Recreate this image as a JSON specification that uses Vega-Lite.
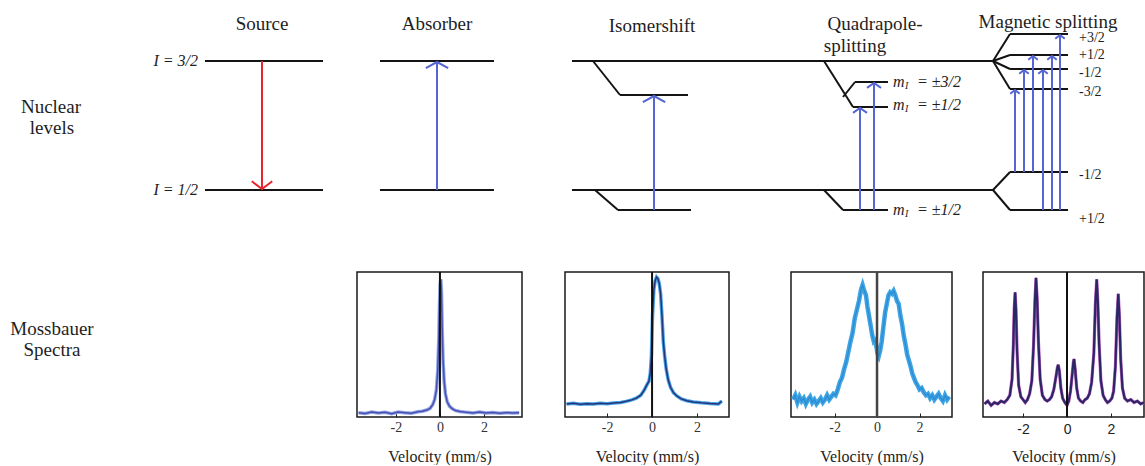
{
  "$schema": "https://vega.github.io/schema/vega-lite/v6.json",
  "padding": 0,
  "background": "white",
  "config": {
    "view": {"stroke": "#1a1a1a", "strokeWidth": 1.5},
    "concat": {"spacing": 0},
    "text": {"font": "Liberation Serif, Times New Roman, DejaVu Serif, serif", "color": "#1e1e1e"}
  },
  "datasets": {
    "segments": [
      {"x": 205, "y": 61, "x2": 323, "y2": 61},
      {"x": 205, "y": 190, "x2": 323, "y2": 190},
      {"x": 380, "y": 61, "x2": 494, "y2": 61},
      {"x": 380, "y": 190, "x2": 494, "y2": 190},
      {"x": 572, "y": 61, "x2": 993, "y2": 61},
      {"x": 572, "y": 190, "x2": 993, "y2": 190},
      {"x": 593, "y": 61, "x2": 620, "y2": 95},
      {"x": 620, "y": 95, "x2": 688, "y2": 95},
      {"x": 595, "y": 190, "x2": 618, "y2": 210},
      {"x": 618, "y": 210, "x2": 691, "y2": 210},
      {"x": 824, "y": 61, "x2": 853, "y2": 107},
      {"x": 853, "y": 107, "x2": 888, "y2": 107},
      {"x": 843, "y": 97, "x2": 855, "y2": 82},
      {"x": 855, "y": 82, "x2": 888, "y2": 82},
      {"x": 824, "y": 190, "x2": 843, "y2": 210},
      {"x": 843, "y": 210, "x2": 888, "y2": 210},
      {"x": 993, "y": 61, "x2": 1010, "y2": 34},
      {"x": 1010, "y": 34, "x2": 1068, "y2": 34},
      {"x": 993, "y": 61, "x2": 1010, "y2": 55},
      {"x": 1010, "y": 55, "x2": 1068, "y2": 55},
      {"x": 993, "y": 61, "x2": 1010, "y2": 69},
      {"x": 1010, "y": 69, "x2": 1068, "y2": 69},
      {"x": 993, "y": 61, "x2": 1010, "y2": 89},
      {"x": 1010, "y": 89, "x2": 1068, "y2": 89},
      {"x": 993, "y": 190, "x2": 1010, "y2": 172},
      {"x": 1010, "y": 172, "x2": 1068, "y2": 172},
      {"x": 993, "y": 190, "x2": 1010, "y2": 210},
      {"x": 1010, "y": 210, "x2": 1068, "y2": 210}
    ],
    "arrows": [
      {"kind": "source", "x": 262, "y": 61, "y2": 189},
      {"kind": "absorber", "x": 437, "y": 190, "y2": 62},
      {"kind": "iso", "x": 654, "y": 210, "y2": 96},
      {"kind": "quad", "x": 860, "y": 210, "y2": 108},
      {"kind": "quad", "x": 874, "y": 210, "y2": 83},
      {"kind": "mag", "x": 1015, "y": 172, "y2": 90},
      {"kind": "mag", "x": 1024, "y": 172, "y2": 70},
      {"kind": "mag", "x": 1033, "y": 172, "y2": 56},
      {"kind": "mag", "x": 1043, "y": 210, "y2": 70},
      {"kind": "mag", "x": 1052, "y": 210, "y2": 56},
      {"kind": "mag", "x": 1060, "y": 210, "y2": 35}
    ],
    "titles": [
      {"x": 262, "y": 24, "text": "Source"},
      {"x": 437, "y": 24, "text": "Absorber"},
      {"x": 652, "y": 26, "text": "Isomershift"},
      {"x": 875, "y": 24, "text": "Quadrapole-"},
      {"x": 855, "y": 46, "text": "splitting"},
      {"x": 1048, "y": 22, "text": "Magnetic splitting"},
      {"x": 51, "y": 107, "text": "Nuclear"},
      {"x": 52, "y": 128, "text": "levels"}
    ],
    "spins": [
      {"x": 198, "y": 61, "text": "I = 3/2"},
      {"x": 198, "y": 190, "text": "I = 1/2"}
    ],
    "mlabels": [
      {"part": "m", "x": 893, "y": 82, "text": "m"},
      {"part": "m", "x": 893, "y": 105, "text": "m"},
      {"part": "m", "x": 893, "y": 210, "text": "m"},
      {"part": "sub", "x": 905, "y": 86, "text": "I"},
      {"part": "sub", "x": 905, "y": 109, "text": "I"},
      {"part": "sub", "x": 905, "y": 214, "text": "I"},
      {"part": "eq", "x": 917, "y": 82, "text": "= ±3/2"},
      {"part": "eq", "x": 917, "y": 105, "text": "= ±1/2"},
      {"part": "eq", "x": 917, "y": 210, "text": "= ±1/2"}
    ],
    "maglabels": [
      {"x": 1079, "y": 38, "text": "+3/2"},
      {"x": 1079, "y": 55, "text": "+1/2"},
      {"x": 1079, "y": 73, "text": "-1/2"},
      {"x": 1079, "y": 92, "text": "-3/2"},
      {"x": 1079, "y": 175, "text": "-1/2"},
      {"x": 1079, "y": 219, "text": "+1/2"}
    ],
    "spectraLabel": [
      {"x": 52, "y": 329, "text": "Mossbauer"},
      {"x": 52, "y": 350, "text": "Spectra"}
    ],
    "p1": [
      {"v": -3.7, "a": 0.030}, {"v": -3.4, "a": 0.025}, {"v": -3.1, "a": 0.035}, {"v": -2.8, "a": 0.028},
      {"v": -2.5, "a": 0.032}, {"v": -2.2, "a": 0.022}, {"v": -1.9, "a": 0.034}, {"v": -1.6, "a": 0.030},
      {"v": -1.3, "a": 0.026}, {"v": -1.0, "a": 0.036}, {"v": -0.8, "a": 0.040}, {"v": -0.6, "a": 0.048},
      {"v": -0.45, "a": 0.060}, {"v": -0.33, "a": 0.085}, {"v": -0.24, "a": 0.12}, {"v": -0.16, "a": 0.19},
      {"v": -0.10, "a": 0.32}, {"v": -0.05, "a": 0.55}, {"v": -0.02, "a": 0.78}, {"v": 0.01, "a": 0.92},
      {"v": 0.04, "a": 0.95}, {"v": 0.07, "a": 0.86}, {"v": 0.10, "a": 0.62}, {"v": 0.14, "a": 0.40},
      {"v": 0.19, "a": 0.25}, {"v": 0.25, "a": 0.16}, {"v": 0.33, "a": 0.105}, {"v": 0.43, "a": 0.075},
      {"v": 0.55, "a": 0.058}, {"v": 0.7, "a": 0.045}, {"v": 0.9, "a": 0.038}, {"v": 1.2, "a": 0.032},
      {"v": 1.5, "a": 0.028}, {"v": 1.8, "a": 0.034}, {"v": 2.1, "a": 0.027}, {"v": 2.4, "a": 0.031},
      {"v": 2.7, "a": 0.026}, {"v": 3.0, "a": 0.030}, {"v": 3.3, "a": 0.028}, {"v": 3.6, "a": 0.030}
    ],
    "p2": [
      {"v": -3.8, "a": 0.090}, {"v": -3.5, "a": 0.095}, {"v": -3.2, "a": 0.088}, {"v": -2.9, "a": 0.092},
      {"v": -2.6, "a": 0.090}, {"v": -2.3, "a": 0.094}, {"v": -2.0, "a": 0.092}, {"v": -1.7, "a": 0.097},
      {"v": -1.4, "a": 0.100}, {"v": -1.15, "a": 0.108}, {"v": -0.9, "a": 0.118}, {"v": -0.7, "a": 0.130},
      {"v": -0.5, "a": 0.150}, {"v": -0.35, "a": 0.185}, {"v": -0.22, "a": 0.225}, {"v": -0.14, "a": 0.245},
      {"v": -0.08, "a": 0.30}, {"v": -0.03, "a": 0.42}, {"v": 0.02, "a": 0.70}, {"v": 0.08, "a": 0.88},
      {"v": 0.14, "a": 0.94}, {"v": 0.20, "a": 0.965}, {"v": 0.26, "a": 0.955}, {"v": 0.32, "a": 0.92},
      {"v": 0.38, "a": 0.85}, {"v": 0.44, "a": 0.70}, {"v": 0.50, "a": 0.52}, {"v": 0.56, "a": 0.42},
      {"v": 0.63, "a": 0.33}, {"v": 0.72, "a": 0.255}, {"v": 0.82, "a": 0.205}, {"v": 0.95, "a": 0.168},
      {"v": 1.1, "a": 0.145}, {"v": 1.3, "a": 0.125}, {"v": 1.55, "a": 0.112}, {"v": 1.84, "a": 0.104},
      {"v": 2.2, "a": 0.098}, {"v": 2.58, "a": 0.093}, {"v": 2.95, "a": 0.090}, {"v": 3.1, "a": 0.110}
    ],
    "p3": [
      {"v": -3.95, "a": 0.12}, {"v": -3.85, "a": 0.15}, {"v": -3.75, "a": 0.10}, {"v": -3.65, "a": 0.14},
      {"v": -3.55, "a": 0.11}, {"v": -3.45, "a": 0.13}, {"v": -3.35, "a": 0.09}, {"v": -3.25, "a": 0.12},
      {"v": -3.15, "a": 0.14}, {"v": -3.05, "a": 0.10}, {"v": -2.95, "a": 0.12}, {"v": -2.85, "a": 0.09},
      {"v": -2.75, "a": 0.11}, {"v": -2.65, "a": 0.13}, {"v": -2.55, "a": 0.10}, {"v": -2.45, "a": 0.12},
      {"v": -2.35, "a": 0.15}, {"v": -2.25, "a": 0.12}, {"v": -2.15, "a": 0.14}, {"v": -2.05, "a": 0.16},
      {"v": -1.95, "a": 0.15}, {"v": -1.85, "a": 0.19}, {"v": -1.75, "a": 0.24}, {"v": -1.65, "a": 0.27},
      {"v": -1.55, "a": 0.33}, {"v": -1.45, "a": 0.38}, {"v": -1.35, "a": 0.45}, {"v": -1.25, "a": 0.52},
      {"v": -1.15, "a": 0.58}, {"v": -1.05, "a": 0.68}, {"v": -0.95, "a": 0.74}, {"v": -0.85, "a": 0.80},
      {"v": -0.75, "a": 0.88}, {"v": -0.68, "a": 0.91}, {"v": -0.60, "a": 0.87}, {"v": -0.52, "a": 0.84},
      {"v": -0.45, "a": 0.76}, {"v": -0.38, "a": 0.70}, {"v": -0.30, "a": 0.63}, {"v": -0.22, "a": 0.56},
      {"v": -0.15, "a": 0.52}, {"v": -0.08, "a": 0.53}, {"v": 0.02, "a": 0.44}, {"v": 0.08, "a": 0.42},
      {"v": 0.15, "a": 0.46}, {"v": 0.22, "a": 0.52}, {"v": 0.30, "a": 0.62}, {"v": 0.38, "a": 0.72},
      {"v": 0.46, "a": 0.78}, {"v": 0.54, "a": 0.84}, {"v": 0.62, "a": 0.86}, {"v": 0.70, "a": 0.85},
      {"v": 0.78, "a": 0.87}, {"v": 0.86, "a": 0.84}, {"v": 0.94, "a": 0.80}, {"v": 1.02, "a": 0.78},
      {"v": 1.10, "a": 0.70}, {"v": 1.18, "a": 0.64}, {"v": 1.26, "a": 0.56}, {"v": 1.34, "a": 0.50},
      {"v": 1.42, "a": 0.43}, {"v": 1.50, "a": 0.39}, {"v": 1.58, "a": 0.35}, {"v": 1.66, "a": 0.30},
      {"v": 1.74, "a": 0.27}, {"v": 1.82, "a": 0.24}, {"v": 1.90, "a": 0.22}, {"v": 2.00, "a": 0.19},
      {"v": 2.10, "a": 0.20}, {"v": 2.20, "a": 0.17}, {"v": 2.30, "a": 0.15}, {"v": 2.40, "a": 0.16},
      {"v": 2.50, "a": 0.13}, {"v": 2.60, "a": 0.15}, {"v": 2.70, "a": 0.12}, {"v": 2.80, "a": 0.14},
      {"v": 2.90, "a": 0.16}, {"v": 3.00, "a": 0.13}, {"v": 3.10, "a": 0.11}, {"v": 3.20, "a": 0.15},
      {"v": 3.30, "a": 0.12}, {"v": 3.40, "a": 0.14}
    ],
    "p4": [
      {"v": -3.75, "a": 0.09}, {"v": -3.6, "a": 0.11}, {"v": -3.45, "a": 0.08}, {"v": -3.3, "a": 0.10},
      {"v": -3.15, "a": 0.09}, {"v": -3.0, "a": 0.11}, {"v": -2.85, "a": 0.10}, {"v": -2.72, "a": 0.12},
      {"v": -2.6, "a": 0.15}, {"v": -2.5, "a": 0.26}, {"v": -2.44, "a": 0.50}, {"v": -2.40, "a": 0.75},
      {"v": -2.36, "a": 0.86}, {"v": -2.32, "a": 0.74}, {"v": -2.27, "a": 0.45}, {"v": -2.2, "a": 0.22},
      {"v": -2.1, "a": 0.14}, {"v": -2.0, "a": 0.12}, {"v": -1.9, "a": 0.10}, {"v": -1.8, "a": 0.12},
      {"v": -1.7, "a": 0.16}, {"v": -1.6, "a": 0.25}, {"v": -1.52, "a": 0.50}, {"v": -1.46, "a": 0.80},
      {"v": -1.41, "a": 0.96}, {"v": -1.36, "a": 0.82}, {"v": -1.30, "a": 0.52}, {"v": -1.22, "a": 0.26},
      {"v": -1.12, "a": 0.15}, {"v": -1.0, "a": 0.12}, {"v": -0.9, "a": 0.11}, {"v": -0.8, "a": 0.12},
      {"v": -0.7, "a": 0.14}, {"v": -0.6, "a": 0.19}, {"v": -0.5, "a": 0.28}, {"v": -0.44, "a": 0.34},
      {"v": -0.40, "a": 0.36}, {"v": -0.35, "a": 0.32}, {"v": -0.28, "a": 0.20}, {"v": -0.2, "a": 0.13},
      {"v": -0.1, "a": 0.10}, {"v": 0.0, "a": 0.08}, {"v": 0.08, "a": 0.11}, {"v": 0.16, "a": 0.18},
      {"v": 0.24, "a": 0.30}, {"v": 0.29, "a": 0.38}, {"v": 0.32, "a": 0.40}, {"v": 0.37, "a": 0.33},
      {"v": 0.44, "a": 0.20}, {"v": 0.52, "a": 0.13}, {"v": 0.62, "a": 0.11}, {"v": 0.72, "a": 0.10},
      {"v": 0.82, "a": 0.12}, {"v": 0.92, "a": 0.13}, {"v": 1.02, "a": 0.16}, {"v": 1.12, "a": 0.24},
      {"v": 1.22, "a": 0.44}, {"v": 1.29, "a": 0.78}, {"v": 1.35, "a": 0.95}, {"v": 1.40, "a": 0.80},
      {"v": 1.46, "a": 0.50}, {"v": 1.54, "a": 0.25}, {"v": 1.64, "a": 0.15}, {"v": 1.74, "a": 0.12},
      {"v": 1.84, "a": 0.10}, {"v": 1.94, "a": 0.11}, {"v": 2.04, "a": 0.13}, {"v": 2.12, "a": 0.18},
      {"v": 2.2, "a": 0.35}, {"v": 2.27, "a": 0.68}, {"v": 2.33, "a": 0.85}, {"v": 2.38, "a": 0.70},
      {"v": 2.44, "a": 0.40}, {"v": 2.52, "a": 0.20}, {"v": 2.62, "a": 0.13}, {"v": 2.75, "a": 0.11},
      {"v": 2.9, "a": 0.12}, {"v": 3.05, "a": 0.10}, {"v": 3.2, "a": 0.11}, {"v": 3.35, "a": 0.09},
      {"v": 3.5, "a": 0.10}
    ],
    "zero": [{"v": 0, "a": 0, "a2": 1}]
  },
  "spacing": 0,
  "bounds": "flush",
  "vconcat": [
    {
      "width": 1145,
      "height": 272,
      "view": {"stroke": null},
      "encoding": {
        "x": {"field": "x", "type": "quantitative", "scale": {"domain": [0, 1145], "nice": false, "zero": false}, "axis": null},
        "y": {"field": "y", "type": "quantitative", "scale": {"domain": [0, 272], "reverse": true, "nice": false, "zero": false}, "axis": null}
      },
      "layer": [
        {
          "data": {"name": "segments"},
          "mark": {"type": "rule", "color": "#141414", "strokeWidth": 2},
          "encoding": {"x2": {"field": "x2"}, "y2": {"field": "y2"}}
        },
        {
          "data": {"name": "arrows"},
          "transform": [{"filter": "datum.kind != 'source'"}],
          "mark": {"type": "rule", "color": "#5566d4", "strokeWidth": 2},
          "encoding": {"y2": {"field": "y2"}}
        },
        {
          "data": {"name": "arrows"},
          "transform": [{"filter": "datum.kind == 'source'"}],
          "mark": {"type": "rule", "color": "#e8232b", "strokeWidth": 2},
          "encoding": {"y2": {"field": "y2"}}
        },
        {
          "data": {"name": "arrows"},
          "transform": [{"filter": "datum.kind == 'source'"}],
          "mark": {"type": "point", "shape": "M-1,-0.75L0,0L1,-0.75", "filled": false, "size": 420, "color": "#e8232b", "strokeWidth": 2, "opacity": 1},
          "encoding": {"y": {"field": "y2", "type": "quantitative"}}
        },
        {
          "data": {"name": "arrows"},
          "transform": [{"filter": "datum.kind == 'absorber' || datum.kind == 'iso'"}],
          "mark": {"type": "point", "shape": "M-1,0.55L0,0L1,0.55", "filled": false, "size": 500, "color": "#5566d4", "strokeWidth": 2, "opacity": 1},
          "encoding": {"y": {"field": "y2", "type": "quantitative"}}
        },
        {
          "data": {"name": "arrows"},
          "transform": [{"filter": "datum.kind == 'quad'"}],
          "mark": {"type": "point", "shape": "M-1,0.7L0,0L1,0.7", "filled": false, "size": 196, "color": "#5566d4", "strokeWidth": 2, "opacity": 1},
          "encoding": {"y": {"field": "y2", "type": "quantitative"}}
        },
        {
          "data": {"name": "arrows"},
          "transform": [{"filter": "datum.kind == 'mag'"}],
          "mark": {"type": "point", "shape": "M-1,0.8L0,0L1,0.8", "filled": false, "size": 90, "color": "#5566d4", "strokeWidth": 2, "opacity": 1},
          "encoding": {"y": {"field": "y2", "type": "quantitative"}}
        },
        {
          "data": {"name": "titles"},
          "mark": {"type": "text", "font": "Liberation Serif, Times New Roman, serif", "fontSize": 19, "baseline": "middle", "align": "center"},
          "encoding": {"text": {"field": "text"}}
        },
        {
          "data": {"name": "spins"},
          "mark": {"type": "text", "font": "Liberation Serif, Times New Roman, serif", "fontSize": 16, "fontStyle": "italic", "baseline": "middle", "align": "right"},
          "encoding": {"text": {"field": "text"}}
        },
        {
          "data": {"name": "mlabels"},
          "transform": [{"filter": "datum.part != 'sub'"}],
          "mark": {"type": "text", "font": "Liberation Serif, Times New Roman, serif", "fontSize": 16, "fontStyle": "italic", "baseline": "middle", "align": "left"},
          "encoding": {"text": {"field": "text"}}
        },
        {
          "data": {"name": "mlabels"},
          "transform": [{"filter": "datum.part == 'sub'"}],
          "mark": {"type": "text", "font": "Liberation Serif, Times New Roman, serif", "fontSize": 10, "fontStyle": "italic", "baseline": "middle", "align": "left"},
          "encoding": {"text": {"field": "text"}}
        },
        {
          "data": {"name": "maglabels"},
          "mark": {"type": "text", "font": "Liberation Serif, Times New Roman, serif", "fontSize": 14, "baseline": "middle", "align": "left"},
          "encoding": {"text": {"field": "text"}}
        }
      ]
    },
    {
      "spacing": 0,
      "bounds": "flush",
      "hconcat": [
        {
          "width": 357,
          "height": 145,
          "view": {"stroke": null},
          "data": {"name": "spectraLabel"},
          "mark": {"type": "text", "font": "Liberation Serif, Times New Roman, serif", "fontSize": 19, "baseline": "middle", "align": "center"},
          "encoding": {
            "x": {"field": "x", "type": "quantitative", "scale": {"domain": [0, 357], "nice": false, "zero": false}, "axis": null},
            "y": {"field": "y", "type": "quantitative", "scale": {"domain": [272, 417], "reverse": true, "nice": false, "zero": false}, "axis": null},
            "text": {"field": "text"}
          }
        },
        {
          "width": 165,
          "height": 145,
          "encoding": {
            "x": {"field": "v", "type": "quantitative", "scale": {"domain": [-3.77, 3.73], "nice": false, "zero": false},
              "axis": {"values": [-2, 0, 2], "labelExpr": "'' + datum.value", "title": "Velocity (mm/s)", "grid": false, "domain": false, "tickSize": -4, "tickColor": "#222", "labelFont": "Liberation Serif, Times New Roman, serif", "labelFontSize": 14, "labelColor": "#333", "labelPadding": 7, "titleFont": "Liberation Serif, Times New Roman, serif", "titleFontSize": 16, "titleFontWeight": "normal", "titleColor": "#222", "titlePadding": 14}},
            "y": {"field": "a", "type": "quantitative", "scale": {"domain": [0, 1], "nice": false, "zero": false}, "axis": null}
          },
          "layer": [
            {"data": {"name": "p1"}, "mark": {"type": "line", "color": "#8fa6e6", "strokeWidth": 3.5}},
            {"data": {"name": "p1"}, "mark": {"type": "line", "color": "#4b4fb2", "strokeWidth": 1.5}},
            {"data": {"name": "zero"}, "mark": {"type": "rule", "color": "#111", "strokeWidth": 2}, "encoding": {"y2": {"field": "a2"}}}
          ]
        },
        {"width": 43, "height": 145, "view": {"stroke": null}, "data": {"values": [{}]}, "mark": {"type": "text", "text": ""}},
        {
          "width": 164,
          "height": 145,
          "encoding": {
            "x": {"field": "v", "type": "quantitative", "scale": {"domain": [-3.87, 3.42], "nice": false, "zero": false},
              "axis": {"values": [-2, 0, 2], "labelExpr": "'' + datum.value", "title": "Velocity (mm/s)", "grid": false, "domain": false, "tickSize": -4, "tickColor": "#222", "labelFont": "Liberation Serif, Times New Roman, serif", "labelFontSize": 14, "labelColor": "#333", "labelPadding": 7, "titleFont": "Liberation Serif, Times New Roman, serif", "titleFontSize": 16, "titleFontWeight": "normal", "titleColor": "#222", "titlePadding": 14}},
            "y": {"field": "a", "type": "quantitative", "scale": {"domain": [0, 1], "nice": false, "zero": false}, "axis": null}
          },
          "layer": [
            {"data": {"name": "p2"}, "mark": {"type": "line", "color": "#45a3e6", "strokeWidth": 3.5}},
            {"data": {"name": "p2"}, "mark": {"type": "line", "color": "#26357a", "strokeWidth": 1.5}},
            {"data": {"name": "zero"}, "mark": {"type": "rule", "color": "#111", "strokeWidth": 2}, "encoding": {"y2": {"field": "a2"}}}
          ]
        },
        {"width": 62, "height": 145, "view": {"stroke": null}, "data": {"values": [{}]}, "mark": {"type": "text", "text": ""}},
        {
          "width": 161,
          "height": 145,
          "encoding": {
            "x": {"field": "v", "type": "quantitative", "scale": {"domain": [-4.05, 3.53], "nice": false, "zero": false},
              "axis": {"values": [-2, 0, 2], "labelExpr": "'' + datum.value", "title": "Velocity (mm/s)", "grid": false, "domain": false, "tickSize": -4, "tickColor": "#222", "labelFont": "Liberation Serif, Times New Roman, serif", "labelFontSize": 14, "labelColor": "#333", "labelPadding": 7, "titleFont": "Liberation Serif, Times New Roman, serif", "titleFontSize": 16, "titleFontWeight": "normal", "titleColor": "#222", "titlePadding": 14}},
            "y": {"field": "a", "type": "quantitative", "scale": {"domain": [0, 1], "nice": false, "zero": false}, "axis": null}
          },
          "layer": [
            {"data": {"name": "p3"}, "mark": {"type": "line", "color": "#3ea4e4", "strokeWidth": 4.5}},
            {"data": {"name": "p3"}, "mark": {"type": "line", "color": "#2a8bd2", "strokeWidth": 1.2}},
            {"data": {"name": "zero"}, "mark": {"type": "rule", "color": "#444", "strokeWidth": 2.5}, "encoding": {"y2": {"field": "a2"}}}
          ]
        },
        {"width": 31, "height": 145, "view": {"stroke": null}, "data": {"values": [{}]}, "mark": {"type": "text", "text": ""}},
        {
          "width": 161,
          "height": 145,
          "encoding": {
            "x": {"field": "v", "type": "quantitative", "scale": {"domain": [-3.82, 3.5], "nice": false, "zero": false},
              "axis": {"values": [-2, 0, 2], "labelExpr": "'' + datum.value", "title": "Velocity (mm/s)", "grid": false, "domain": false, "tickSize": -4, "tickColor": "#222", "labelFont": "Liberation Sans, Arial, sans-serif", "labelFontSize": 14, "labelColor": "#222", "labelPadding": 9, "titleFont": "Liberation Serif, Times New Roman, serif", "titleFontSize": 16, "titleFontWeight": "normal", "titleColor": "#222", "titlePadding": 12}},
            "y": {"field": "a", "type": "quantitative", "scale": {"domain": [0, 1], "nice": false, "zero": false}, "axis": null}
          },
          "layer": [
            {"data": {"name": "p4"}, "mark": {"type": "line", "color": "#c060c4", "strokeWidth": 3.2}},
            {"data": {"name": "p4"}, "mark": {"type": "line", "color": "#2a2864", "strokeWidth": 2.2}},
            {"data": {"name": "zero"}, "mark": {"type": "rule", "color": "#111", "strokeWidth": 2}, "encoding": {"y2": {"field": "a2"}}}
          ]
        }
      ]
    }
  ]
}
